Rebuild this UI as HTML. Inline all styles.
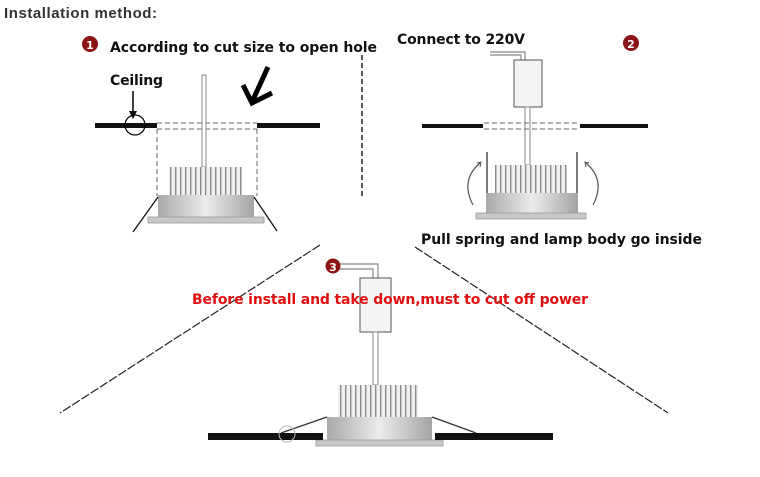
<!DOCTYPE html>
<html><head><meta charset="utf-8"><style>
html,body{margin:0;padding:0;background:#fff;}
svg{display:block;}
text{font-family:"DejaVu Sans","Liberation Sans",sans-serif;font-weight:bold;}
</style></head><body>
<svg width="760" height="477" viewBox="0 0 760 477" xmlns="http://www.w3.org/2000/svg">
<defs>
<linearGradient id="bg" x1="0" y1="0" x2="1" y2="0">
<stop offset="0" stop-color="#a9a9a9"/><stop offset="0.5" stop-color="#ececec"/><stop offset="1" stop-color="#a4a4a4"/>
</linearGradient>
<pattern id="fins" width="5" height="40" patternUnits="userSpaceOnUse">
<rect width="5" height="40" fill="#f0f0f0"/><rect x="0" width="1.4" height="40" fill="#8a8a8a"/>
</pattern>
</defs>
<text x="4" y="18" font-family="Liberation Sans" style="font-family:'Liberation Sans',sans-serif" font-size="15" fill="#333" textLength="153">Installation method:</text>

<!-- Panel 1 -->
<circle cx="90" cy="44" r="8" fill="#8b1414"/><text x="90" y="49" font-size="11" fill="#fff" text-anchor="middle">1</text>
<text x="110" y="52" font-size="14" fill="#111" textLength="267">According to cut size to open hole</text>
<text x="110" y="85" font-size="14" fill="#111" textLength="53">Ceiling</text>
<line x1="133" y1="91" x2="133" y2="116" stroke="#000" stroke-width="1.5"/>
<path d="M129,111 L133,119 L137,111 Z" fill="#000"/>
<rect x="95" y="123" width="62" height="5" fill="#111"/>
<rect x="257" y="123" width="63" height="5" fill="#111"/>
<circle cx="135" cy="125" r="10" fill="none" stroke="#000" stroke-width="1.2"/>
<g stroke="#888" stroke-dasharray="5,3" stroke-width="1.3" fill="none">
<line x1="157" y1="123" x2="257" y2="123"/><line x1="157" y1="129" x2="257" y2="129"/>
<line x1="157" y1="129" x2="157" y2="196"/><line x1="257" y1="129" x2="257" y2="196"/>
</g>
<line x1="362" y1="55" x2="362" y2="198" stroke="#222" stroke-width="1.5" stroke-dasharray="5,3"/>
<path d="M268,67 L252,102 M243,85 L252,103 L272,93" stroke="#000" stroke-width="5" fill="none"/>
<rect x="202" y="75" width="4" height="92" fill="#fff" stroke="#888" stroke-width="1"/>
<rect x="169" y="167" width="73" height="29" fill="url(#fins)"/>
<rect x="158" y="195" width="96" height="22" fill="url(#bg)"/>
<rect x="148" y="217" width="116" height="6" fill="#c8c8c8" stroke="#999" stroke-width="0.8"/>
<line x1="158" y1="197" x2="133" y2="232" stroke="#111" stroke-width="1.3"/>
<line x1="254" y1="197" x2="277" y2="231" stroke="#111" stroke-width="1.3"/>

<!-- Panel 2 -->
<text x="397" y="44" font-size="14" fill="#111" textLength="128">Connect to 220V</text>
<circle cx="631" cy="43" r="8" fill="#8b1414"/><text x="631" y="48" font-size="11" fill="#fff" text-anchor="middle">2</text>
<path d="M490,52 L525,52 L525,60 M490,55 L521,55 L521,60" stroke="#888" stroke-width="1.2" fill="none"/>
<rect x="514" y="60" width="28" height="47" fill="#f4f4f4" stroke="#555" stroke-width="1"/>
<rect x="525" y="107" width="5" height="58" fill="#fff" stroke="#888" stroke-width="1"/>
<rect x="422" y="124" width="61" height="4" fill="#111"/>
<rect x="580" y="124" width="68" height="4" fill="#111"/>
<g stroke="#888" stroke-dasharray="5,3" stroke-width="1.3"><line x1="484" y1="123" x2="579" y2="123"/><line x1="484" y1="129" x2="579" y2="129"/></g>
<rect x="495" y="165" width="72" height="28" fill="url(#fins)"/>
<rect x="486" y="193" width="92" height="20" fill="url(#bg)"/>
<rect x="476" y="213" width="110" height="6" fill="#c8c8c8" stroke="#999" stroke-width="0.8"/>
<line x1="487" y1="152" x2="487" y2="193" stroke="#333" stroke-width="1.3"/>
<line x1="577" y1="152" x2="577" y2="193" stroke="#333" stroke-width="1.3"/>
<path d="M473,205 Q460,180 480,163" stroke="#555" stroke-width="1.2" fill="none"/>
<path d="M477,163 L481,162 L480,167" stroke="#555" fill="none"/>
<path d="M593,205 Q606,180 586,163" stroke="#555" stroke-width="1.2" fill="none"/>
<path d="M589,163 L585,162 L586,167" stroke="#555" fill="none"/>
<text x="421" y="244" font-size="14" fill="#111" textLength="281">Pull spring and lamp body go inside</text>

<!-- Panel 3 -->
<line x1="320" y1="245" x2="60" y2="413" stroke="#222" stroke-width="1.2" stroke-dasharray="9,2"/>
<line x1="415" y1="247" x2="668" y2="413" stroke="#222" stroke-width="1.2" stroke-dasharray="9,2"/>
<circle cx="333" cy="266" r="7.5" fill="#8b1414"/><text x="333" y="271" font-size="11" fill="#fff" text-anchor="middle">3</text>
<path d="M340,264 L378,264 L378,278 M340,269 L373,269 L373,278" stroke="#888" stroke-width="1.2" fill="none"/>
<rect x="360" y="278" width="31" height="54" fill="#f4f4f4" stroke="#555" stroke-width="1"/>
<rect x="373" y="332" width="5" height="53" fill="#fff" stroke="#888" stroke-width="1"/>
<text x="192" y="304" font-size="14" fill="#e01010" textLength="396">Before install and take down,must to cut off power</text>
<rect x="338" y="385" width="80" height="32" fill="url(#fins)"/>
<rect x="327" y="417" width="105" height="23" fill="url(#bg)"/>
<rect x="316" y="440" width="127" height="6" fill="#c8c8c8" stroke="#999" stroke-width="0.8"/>
<rect x="208" y="433" width="115" height="7" fill="#111"/>
<rect x="435" y="433" width="118" height="7" fill="#111"/>
<line x1="327" y1="417" x2="281" y2="433" stroke="#333" stroke-width="1.2"/>
<line x1="432" y1="417" x2="476" y2="433" stroke="#333" stroke-width="1.2"/>
<circle cx="287" cy="434" r="8" fill="none" stroke="#bbb" stroke-width="1"/>
</svg>
</body></html>
